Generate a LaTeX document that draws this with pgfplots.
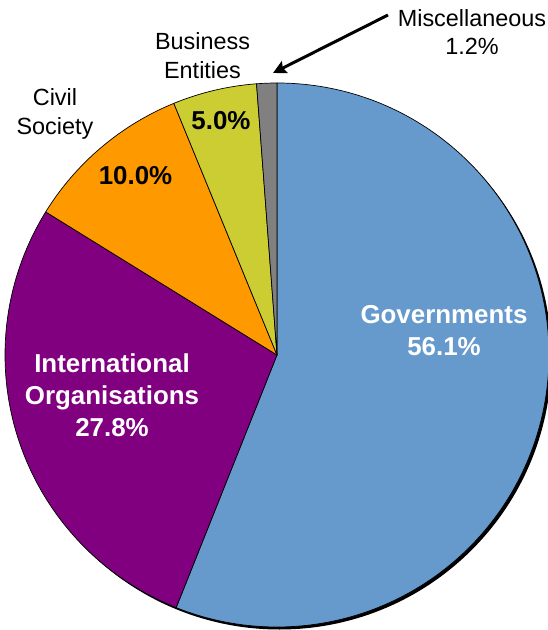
\documentclass[border=0pt]{standalone}
\usepackage{fontspec}
\setmainfont{Liberation Sans}
\usepackage{pgfplots}
\pgfplotsset{compat=1.18}
\usepackage{pgfplotstable}
\usetikzlibrary{arrows.meta}

\definecolor{govblue}{RGB}{102,153,204}
\definecolor{intpurple}{RGB}{128,0,128}
\definecolor{civorange}{RGB}{255,153,0}
\definecolor{busyellow}{RGB}{204,204,51}
\definecolor{miscgray}{RGB}{128,128,128}

% shares in percent, clockwise from 12 o'clock
\pgfplotstableread{
id share
gov  56.1
intl 27.8
civ  10.0
bus  5.0
misc 1.2
}\sharetable

\newcommand\getshare[2]{\pgfplotstablegetelem{#1}{share}\of\sharetable\let#2\pgfplotsretval}
\getshare{0}\sGov
\getshare{1}\sInt
\getshare{2}\sCiv
\getshare{3}\sBus
\getshare{4}\sMisc
\pgfmathsetmacro\total{\sGov+\sInt+\sCiv+\sBus+\sMisc}
\pgfmathsetmacro\aGov{90-(\sGov/\total)*360}
\pgfmathsetmacro\aInt{\aGov-(\sInt/\total)*360}
\pgfmathsetmacro\aCiv{\aInt-(\sCiv/\total)*360}
\pgfmathsetmacro\aBus{\aCiv-(\sBus/\total)*360}
\pgfmathsetmacro\aMisc{\aBus-(\sMisc/\total)*360}

\newcommand\R{272bp}
\newcommand\slice[3]{% colour, start angle, end angle
  \filldraw[fill=#1, draw=black, line width=0.7bp, line join=round]
    (axis cs:277,275) -- ++(#2:\R) arc[start angle=#2, end angle=#3, radius=\R] -- cycle;}
\newcommand\bl{\fontsize{26}{30}\bfseries}
\newcommand\rg{\fontsize{23.5}{28}\selectfont}
\tikzset{lbl/.style={inner sep=0pt, outer sep=0pt, anchor=base}}

\begin{document}
\begin{tikzpicture}
\useasboundingbox (0,0) rectangle (548bp,630bp);
\begin{axis}[
    at={(0,0)}, anchor=origin,
    x=1bp, y=1bp,
    xmin=0, xmax=548, ymin=0, ymax=630,
    scale only axis,
    hide axis,
    clip=false,
]
% drop shadow
\fill[black] (axis cs:279.5,272.5) circle[radius=\R];
\slice{govblue}{90}{\aGov}
\slice{intpurple}{\aGov}{\aInt}
\slice{civorange}{\aInt}{\aCiv}
\slice{busyellow}{\aCiv}{\aBus}
\slice{miscgray}{\aBus}{\aMisc}

% labels inside slices
\node[lbl, white, font=\bl] at (axis cs:444,307) {Governments};
\node[lbl, white, font=\bl] at (axis cs:444,275) {56.1\%};
\node[lbl, white, font=\bl] at (axis cs:112,258) {International};
\node[lbl, white, font=\bl] at (axis cs:112,226) {Organisations};
\node[lbl, white, font=\bl] at (axis cs:112,194) {27.8\%};
\node[lbl, black, font=\bl] at (axis cs:135.5,445) {10.0\%};
\node[lbl, black, font=\bl] at (axis cs:221,500) {5.0\%};

% outside labels
\node[lbl, font=\rg] at (axis cs:55,524) {Civil};
\node[lbl, font=\rg] at (axis cs:55,495) {Society};
\node[lbl, font=\rg] at (axis cs:202.5,580) {Business};
\node[lbl, font=\rg] at (axis cs:202.5,551) {Entities};
\node[lbl, font=\rg] at (axis cs:472,603) {Miscellaneous};
\node[lbl, font=\rg] at (axis cs:472,575) {1.2\%};
\draw[line width=3bp, -{Stealth[length=13bp, width=13bp, inset=2bp]}]
  (axis cs:388,615) -- (axis cs:273,557);
\end{axis}
\end{tikzpicture}
\end{document}
